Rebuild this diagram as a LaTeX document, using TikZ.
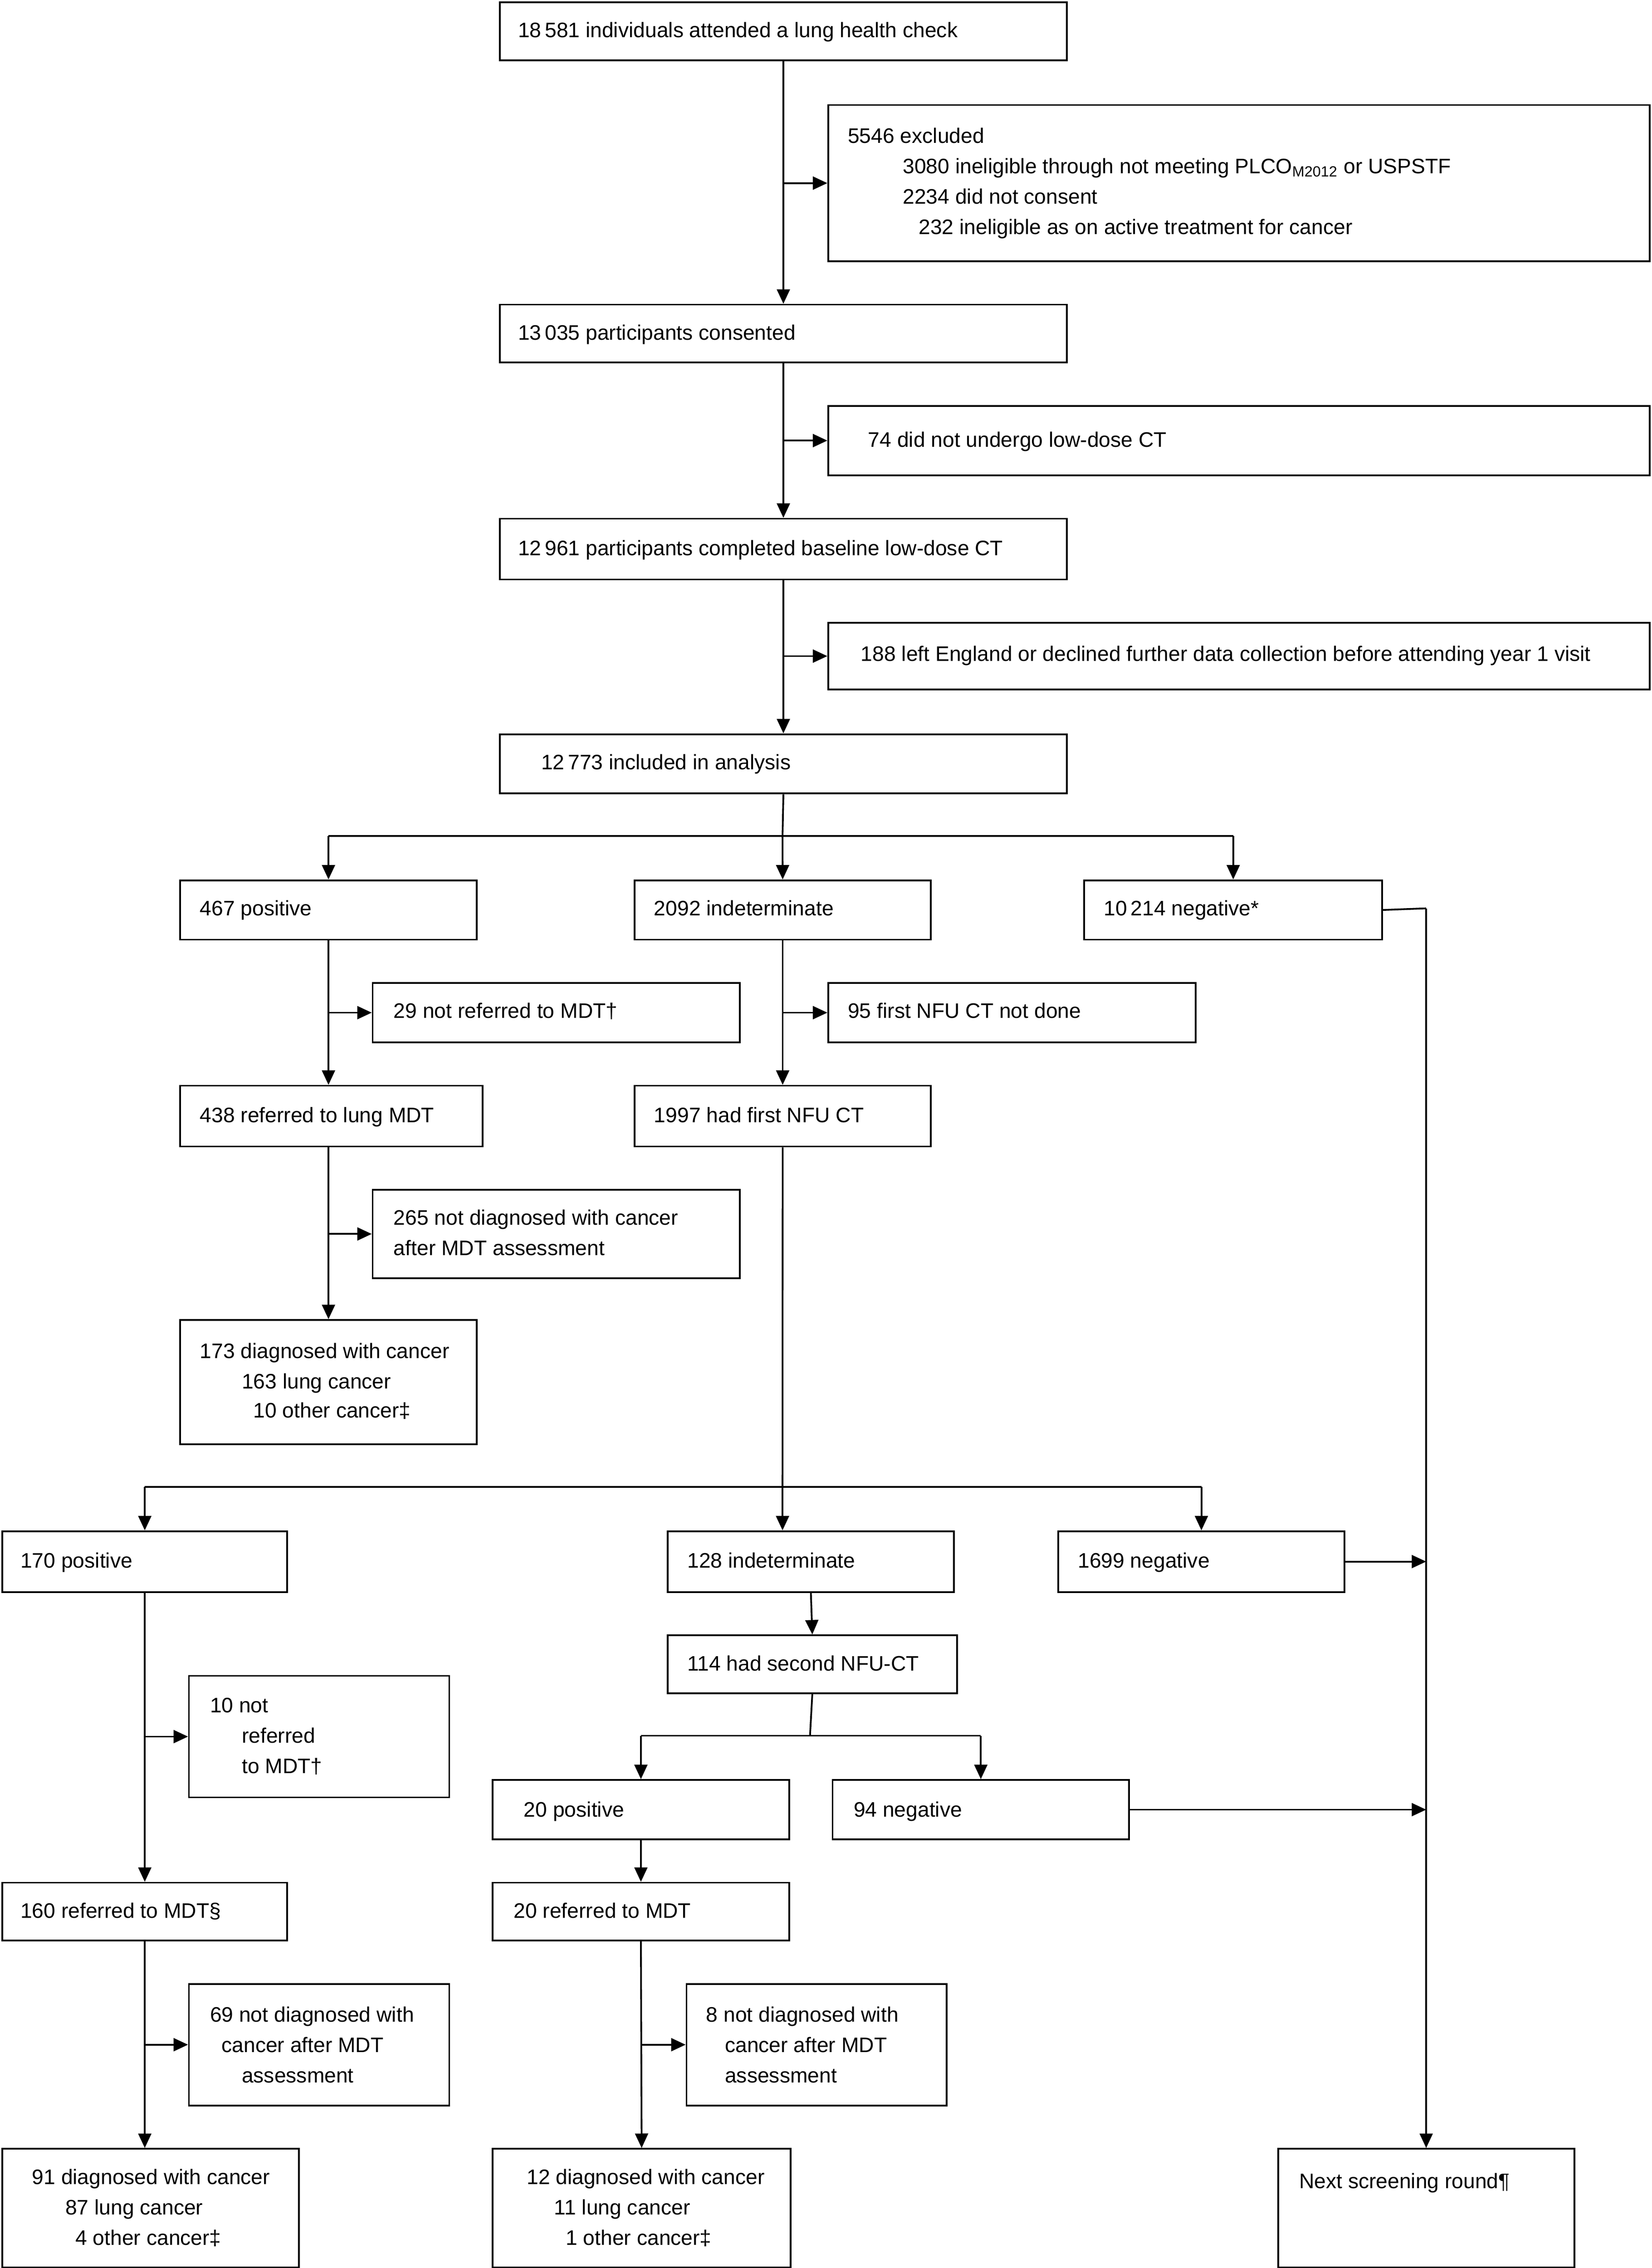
\documentclass[tikz,border=0pt]{standalone}
\usepackage{fontspec}
\setmainfont{Liberation Sans}
\usetikzlibrary{arrows.meta}
\tikzset{
  box/.style={draw,line width=1.2pt,anchor=north west,inner sep=0pt},
  ln/.style={line width=1.2pt},
  arr/.style={line width=1.2pt,-{Triangle[length=10pt,width=9pt]}},
  tx/.style={anchor=base west,inner sep=0pt,font=\fontsize{14.5}{17}\selectfont}
}
\newcommand{\bx}[5]{\node[box,minimum width={(#4-#2)*1pt},minimum height={(#5-#3)*1pt}] (#1) at (#2,#3) {};}
\newcommand{\tl}[4]{\node[tx] (#1) at (#2,#3+5) {#4};}
\begin{document}
\begin{tikzpicture}[x=1pt,y=-1pt]
\useasboundingbox (0,0) rectangle (1142,1568);
% boxes
\bx{A}{345}{1}{737}{41}
\bx{B}{572}{72}{1140}{180}
\bx{C}{345}{210}{737}{250}
\bx{D}{572}{280}{1140}{328}
\bx{E}{345}{358}{737}{400}
\bx{F}{572}{430}{1140}{476}
\bx{G}{345}{507}{737}{548}
\bx{H1}{124}{608}{329}{649}
\bx{H2}{438}{608}{643}{649}
\bx{H3}{749}{608}{955}{649}
\bx{I1}{257}{679}{511}{720}
\bx{I2}{572}{679}{826}{720}
\bx{J1}{124}{750}{333}{792}
\bx{J2}{438}{750}{643}{792}
\bx{K1}{257}{822}{511}{883}
\bx{L1}{124}{912}{329}{998}
\bx{M1}{1}{1058}{198}{1100}
\bx{M2}{461}{1058}{659}{1100}
\bx{M3}{731}{1058}{929}{1100}
\bx{N1}{130}{1158}{310}{1242}
\bx{N2}{461}{1130}{661}{1170}
\bx{O1}{340}{1230}{545}{1271}
\bx{O2}{575}{1230}{780}{1271}
\bx{P1}{1}{1301}{198}{1341}
\bx{P2}{340}{1301}{545}{1341}
\bx{Q1}{130}{1371}{310}{1455}
\bx{Q2}{474}{1371}{654}{1455}
\bx{R1}{1}{1485}{206}{1567}
\bx{R2}{340}{1485}{546}{1567}
\bx{R3}{883}{1485}{1088}{1567}
% texts
\tl{tA}{358}{21}{18\,581 individuals attended a lung health check}
\tl{tB1}{586}{94}{5546 excluded}
\tl{tB2}{624}{115}{3080 ineligible through not meeting PLCO\textsubscript{M2012} or USPSTF}
\tl{tB3}{624}{136}{2234 did not consent}
\tl{tB4}{635}{157}{232 ineligible as on active treatment for cancer}
\tl{tC}{358}{230}{13\,035 participants consented}
\tl{tD}{600}{304}{74 did not undergo low-dose CT}
\tl{tE}{358}{379}{12\,961 participants completed baseline low-dose CT}
\tl{tF}{595}{452}{188 left England or declined further data collection before attending year 1 visit}
\tl{tG}{374}{527}{12\,773 included in analysis}
\tl{tH1}{138}{628}{467 positive}
\tl{tH2}{452}{628}{2092 indeterminate}
\tl{tH3}{763}{628}{10\,214 negative*}
\tl{tI1}{272}{699}{29 not referred to MDT†}
\tl{tI2}{586}{699}{95 first NFU CT not done}
\tl{tJ1}{138}{771}{438 referred to lung MDT}
\tl{tJ2}{452}{771}{1997 had first NFU CT}
\tl{tK1}{272}{842}{265 not diagnosed with cancer}
\tl{tK2}{272}{863}{after MDT assessment}
\tl{tL1}{138}{934}{173 diagnosed with cancer}
\tl{tL2}{167}{955}{163 lung cancer}
\tl{tL3}{175}{975}{10 other cancer‡}
\tl{tM1}{14}{1079}{170 positive}
\tl{tM2}{475}{1079}{128 indeterminate}
\tl{tM3}{745}{1079}{1699 negative}
\tl{tN1}{145}{1179}{10 not}
\tl{tN2}{167}{1200}{referred}
\tl{tN3}{167}{1221}{to MDT†}
\tl{tN4}{475}{1150}{114 had second NFU-CT}
\tl{tO1}{362}{1251}{20 positive}
\tl{tO2}{590}{1251}{94 negative}
\tl{tP1}{14}{1321}{160 referred to MDT§}
\tl{tP2}{355}{1321}{20 referred to MDT}
\tl{tQ1}{145}{1393}{69 not diagnosed with}
\tl{tQ2}{153}{1414}{cancer after MDT}
\tl{tQ3}{167}{1435}{assessment}
\tl{tQ4}{488}{1393}{8 not diagnosed with}
\tl{tQ5}{501}{1414}{cancer after MDT}
\tl{tQ6}{501}{1435}{assessment}
\tl{tR1}{22}{1505}{91 diagnosed with cancer}
\tl{tR2}{45}{1526}{87 lung cancer}
\tl{tR3}{52}{1547}{4 other cancer‡}
\tl{tR4}{364}{1505}{12 diagnosed with cancer}
\tl{tR5}{383}{1526}{11 lung cancer}
\tl{tR6}{391}{1547}{1 other cancer‡}
\tl{tR7}{898}{1508}{Next screening round¶}
% coordinates
\coordinate (s1) at (541,578);
\coordinate (s2) at (541,1028);
\coordinate (s3) at (560,1200);
\coordinate (rt) at (986,628);
% spine
\draw[arr] (A.south) -- (C.north);
\draw[arr] (A.south|-B.west) -- (B.west);
\draw[arr] (C.south) -- (E.north);
\draw[arr] (C.south|-D.west) -- (D.west);
\draw[arr] (E.south) -- (G.north);
\draw[arr] (E.south|-F.west) -- (F.west);
\draw[ln] (G.south) -- (s1);
\draw[ln] (s1-|H1.south) -- (s1-|H3.south);
\draw[arr] (s1-|H1.south) -- (H1.north);
\draw[arr] (s1) -- (H2.north);
\draw[arr] (s1-|H3.south) -- (H3.north);
% left branch
\draw[arr] (H1.south) -- (H1.south|-J1.north);
\draw[arr] (H1.south|-I1.west) -- (I1.west);
\draw[arr] (H1.south|-J1.south) -- (H1.south|-L1.north);
\draw[arr] (H1.south|-K1.west) -- (K1.west);
% middle branch
\draw[arr] (H2.south) -- (J2.north);
\draw[arr] (H2.south|-I2.west) -- (I2.west);
\draw[ln] (J2.south) -- (s2);
\draw[ln] (s2-|M1.north) -- (s2-|M3.north);
\draw[arr] (s2-|M1.north) -- (M1.north);
\draw[arr] (s2) -- (s2|-M2.north);
\draw[arr] (s2-|M3.north) -- (M3.north);
% right negative
\draw[ln] (H3.east) -- (rt);
\draw[arr] (rt) -- (rt|-R3.north);
\draw[arr] (M3.east) -- (rt|-M3.east);
\draw[arr] (O2.east) -- (rt|-O2.east);
% 170 positive
\draw[arr] (M1.south) -- (P1.north);
\draw[arr] (M1.south|-N1.west) -- (N1.west);
\draw[arr] (P1.south) -- (M1.south|-R1.north);
\draw[arr] (M1.south|-Q1.west) -- (Q1.west);
% indeterminate
\draw[arr] (M2.south) -- (N2.north);
\draw[ln] (N2.south) -- (s3);
\draw[ln] (s3-|O1.north) -- (s3-|O2.north);
\draw[arr] (s3-|O1.north) -- (O1.north);
\draw[arr] (s3-|O2.north) -- (O2.north);
\draw[arr] (O1.south) -- (P2.north);
\draw[arr] (P2.south) -- (R2.north);
\draw[arr] (P2.south|-Q2.west) -- (Q2.west);
\end{tikzpicture}
\end{document}
